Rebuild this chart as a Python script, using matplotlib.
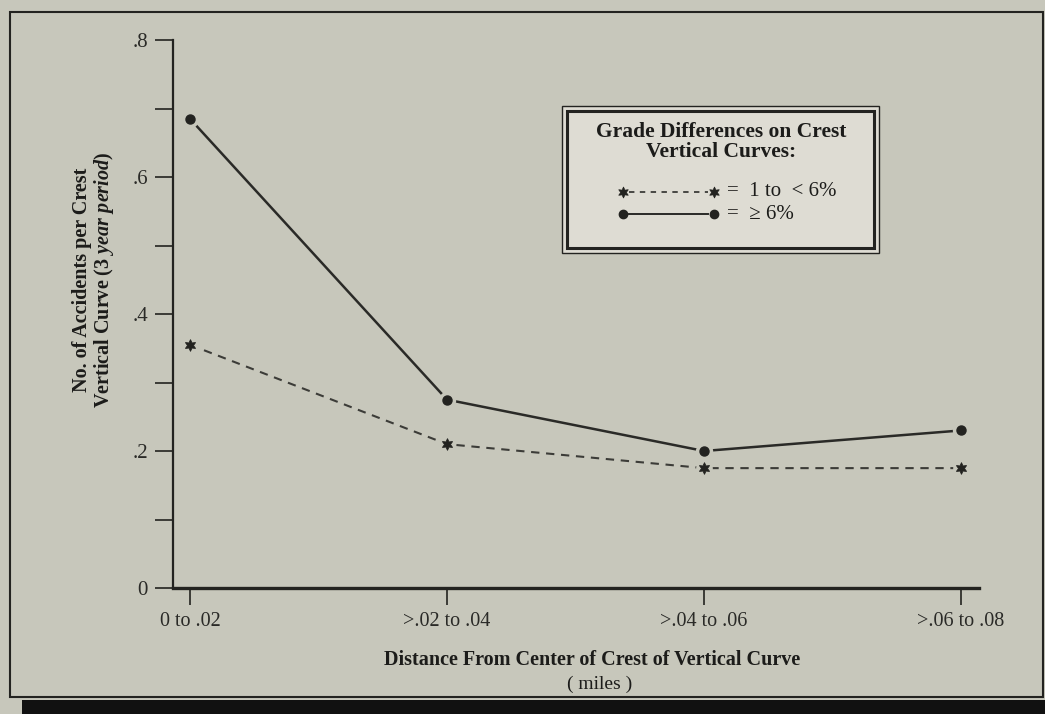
import numpy as np
import matplotlib.pyplot as plt
from matplotlib.patches import Rectangle
from matplotlib.lines import Line2D

# data
categories = ['0 to .02', '>.02 to .04', '>.04 to .06', '>.06 to .08']
low_grade = [0.355, 0.21, 0.175, 0.175]     # 1 to < 6%
high_grade = [0.685, 0.275, 0.20, 0.23]     # >= 6%
y_ticks = [0, 0.2, 0.4, 0.6, 0.8]
y_labels = ['0', '.2', '.4', '.6', '.8']

W, H = 1045, 714
BG = '#c7c7bb'
BOX = '#dedcd3'
INK = '#232320'
STAR = (6, 1, 0)

plt.rcParams['font.family'] = ['Liberation Serif', 'DejaVu Serif']
plt.rcParams['mathtext.fontset'] = 'custom'
plt.rcParams['mathtext.rm'] = 'Liberation Serif:bold'
plt.rcParams['mathtext.it'] = 'Liberation Serif:italic:bold'


def px(x, y):
    # pixel position (from top-left) -> figure fraction
    return x / W, 1 - y / H


fig = plt.figure(figsize=(W / 100, H / 100), dpi=100, facecolor=BG)

# outer frame and dark strip at the bottom
fig.add_artist(Rectangle(px(10, 697), 1033 / W, 685 / H, transform=fig.transFigure,
                         fill=False, edgecolor=INK, linewidth=1.5))
fig.add_artist(Rectangle(px(22, 714), 1 - 22 / W, 14 / H, transform=fig.transFigure,
                         facecolor='#111111', edgecolor='none'))

# axes
x0, y0 = px(173, 588)
x1, y1 = px(979, 40)
ax = fig.add_axes([x0, y0, x1 - x0, y1 - y0])
ax.set_facecolor('none')

x = np.arange(len(categories))
ax.plot(x, low_grade, color='#3c3c38', linewidth=1.5, linestyle=(0, (4, 3.2)), zorder=2)
ax.plot(x, high_grade, color='#2a2a27', linewidth=1.8, linestyle='-', zorder=2)
# small gaps between lines and markers, as in the print
ax.plot(x, low_grade, linestyle='none', marker='o', markersize=12,
        markerfacecolor=BG, markeredgecolor='none', zorder=3)
ax.plot(x, high_grade, linestyle='none', marker='o', markersize=12.5,
        markerfacecolor=BG, markeredgecolor='none', zorder=3)
ax.plot(x, low_grade, linestyle='none', marker=STAR, markersize=8.5,
        markerfacecolor=INK, markeredgecolor=INK, markeredgewidth=0.6, zorder=4)
ax.plot(x, high_grade, linestyle='none', marker='o', markersize=6.5,
        markerfacecolor=INK, markeredgecolor=INK, zorder=4)

ax.set_xlim(-17 / 257, 3 + 18 / 257)
ax.set_ylim(0, 0.8)

for s in ['top', 'right']:
    ax.spines[s].set_visible(False)
ax.spines['left'].set_linewidth(1.6)
ax.spines['bottom'].set_linewidth(2.4)
ax.spines['left'].set_color(INK)
ax.spines['bottom'].set_color(INK)

ax.set_xticks(x)
ax.set_xticklabels(categories, fontsize=14.5, color='#2a2a27')
ax.set_yticks(y_ticks)
ax.set_yticklabels(y_labels, fontsize=15, color='#2a2a27')
ax.set_yticks([0.1, 0.3, 0.5, 0.7], minor=True)
ax.tick_params(axis='y', which='both', direction='out', length=13, width=1.2,
               color=INK, pad=5)
ax.tick_params(axis='x', direction='out', length=12, width=1.2, color=INK, pad=5)

# axis titles
fig.text(*px(592, 660), 'Distance From Center of Crest of Vertical Curve',
         ha='center', va='center', fontsize=14.5, fontweight='bold', color='#1c1c1a')
fig.text(*px(600, 684), '( miles )', ha='center', va='center', fontsize=14, color='#1c1c1a')
fig.text(*px(94, 280),
         'No. of Accidents per Crest\n' + r'Vertical Curve ($\mathit{3\ year\ period}$)',
         ha='center', va='center', rotation=90, fontsize=14.5, fontweight='bold',
         color='#1c1c1a', linespacing=0.95)

# legend box with double border
fig.add_artist(Rectangle(px(562, 253), 317 / W, 147 / H, transform=fig.transFigure,
                         facecolor=BOX, edgecolor=INK, linewidth=1.0))
fig.add_artist(Rectangle(px(567, 248), 307 / W, 137 / H, transform=fig.transFigure,
                         facecolor='none', edgecolor=INK, linewidth=2.2))
fig.text(*px(721, 142), 'Grade Differences on Crest\nVertical Curves:',
         ha='center', va='center', fontsize=15.5, fontweight='bold', color='#1c1c1a',
         linespacing=1.0)

lx0, _ = px(623, 0)
lx1, _ = px(714, 0)
_, ly_a = px(0, 192)
_, ly_b = px(0, 214)
fig.add_artist(Line2D([lx0 + 0.006, lx1 - 0.006], [ly_a, ly_a], transform=fig.transFigure,
                      color='#3c3c38', linewidth=1.3, linestyle=(0, (3, 3))))
fig.add_artist(Line2D([lx0 + 0.006, lx1 - 0.006], [ly_b, ly_b], transform=fig.transFigure,
                      color='#2a2a27', linewidth=1.4, linestyle='-'))
fig.add_artist(Line2D([lx0, lx1], [ly_a, ly_a], transform=fig.transFigure,
                      linestyle='none', marker=STAR, markersize=8,
                      markerfacecolor=INK, markeredgecolor=INK, markeredgewidth=0.5))
fig.add_artist(Line2D([lx0, lx1], [ly_b, ly_b], transform=fig.transFigure,
                      linestyle='none', marker='o', markersize=6,
                      markerfacecolor=INK, markeredgecolor=INK))
fig.text(*px(727, 192), '=  1 to  < 6%', ha='left', va='center', fontsize=15,
         color='#1c1c1a')
fig.text(*px(727, 214), '=  ≥ 6%', ha='left', va='center', fontsize=15,
         color='#1c1c1a')

fig.savefig('out.png', dpi=100, facecolor=BG)
